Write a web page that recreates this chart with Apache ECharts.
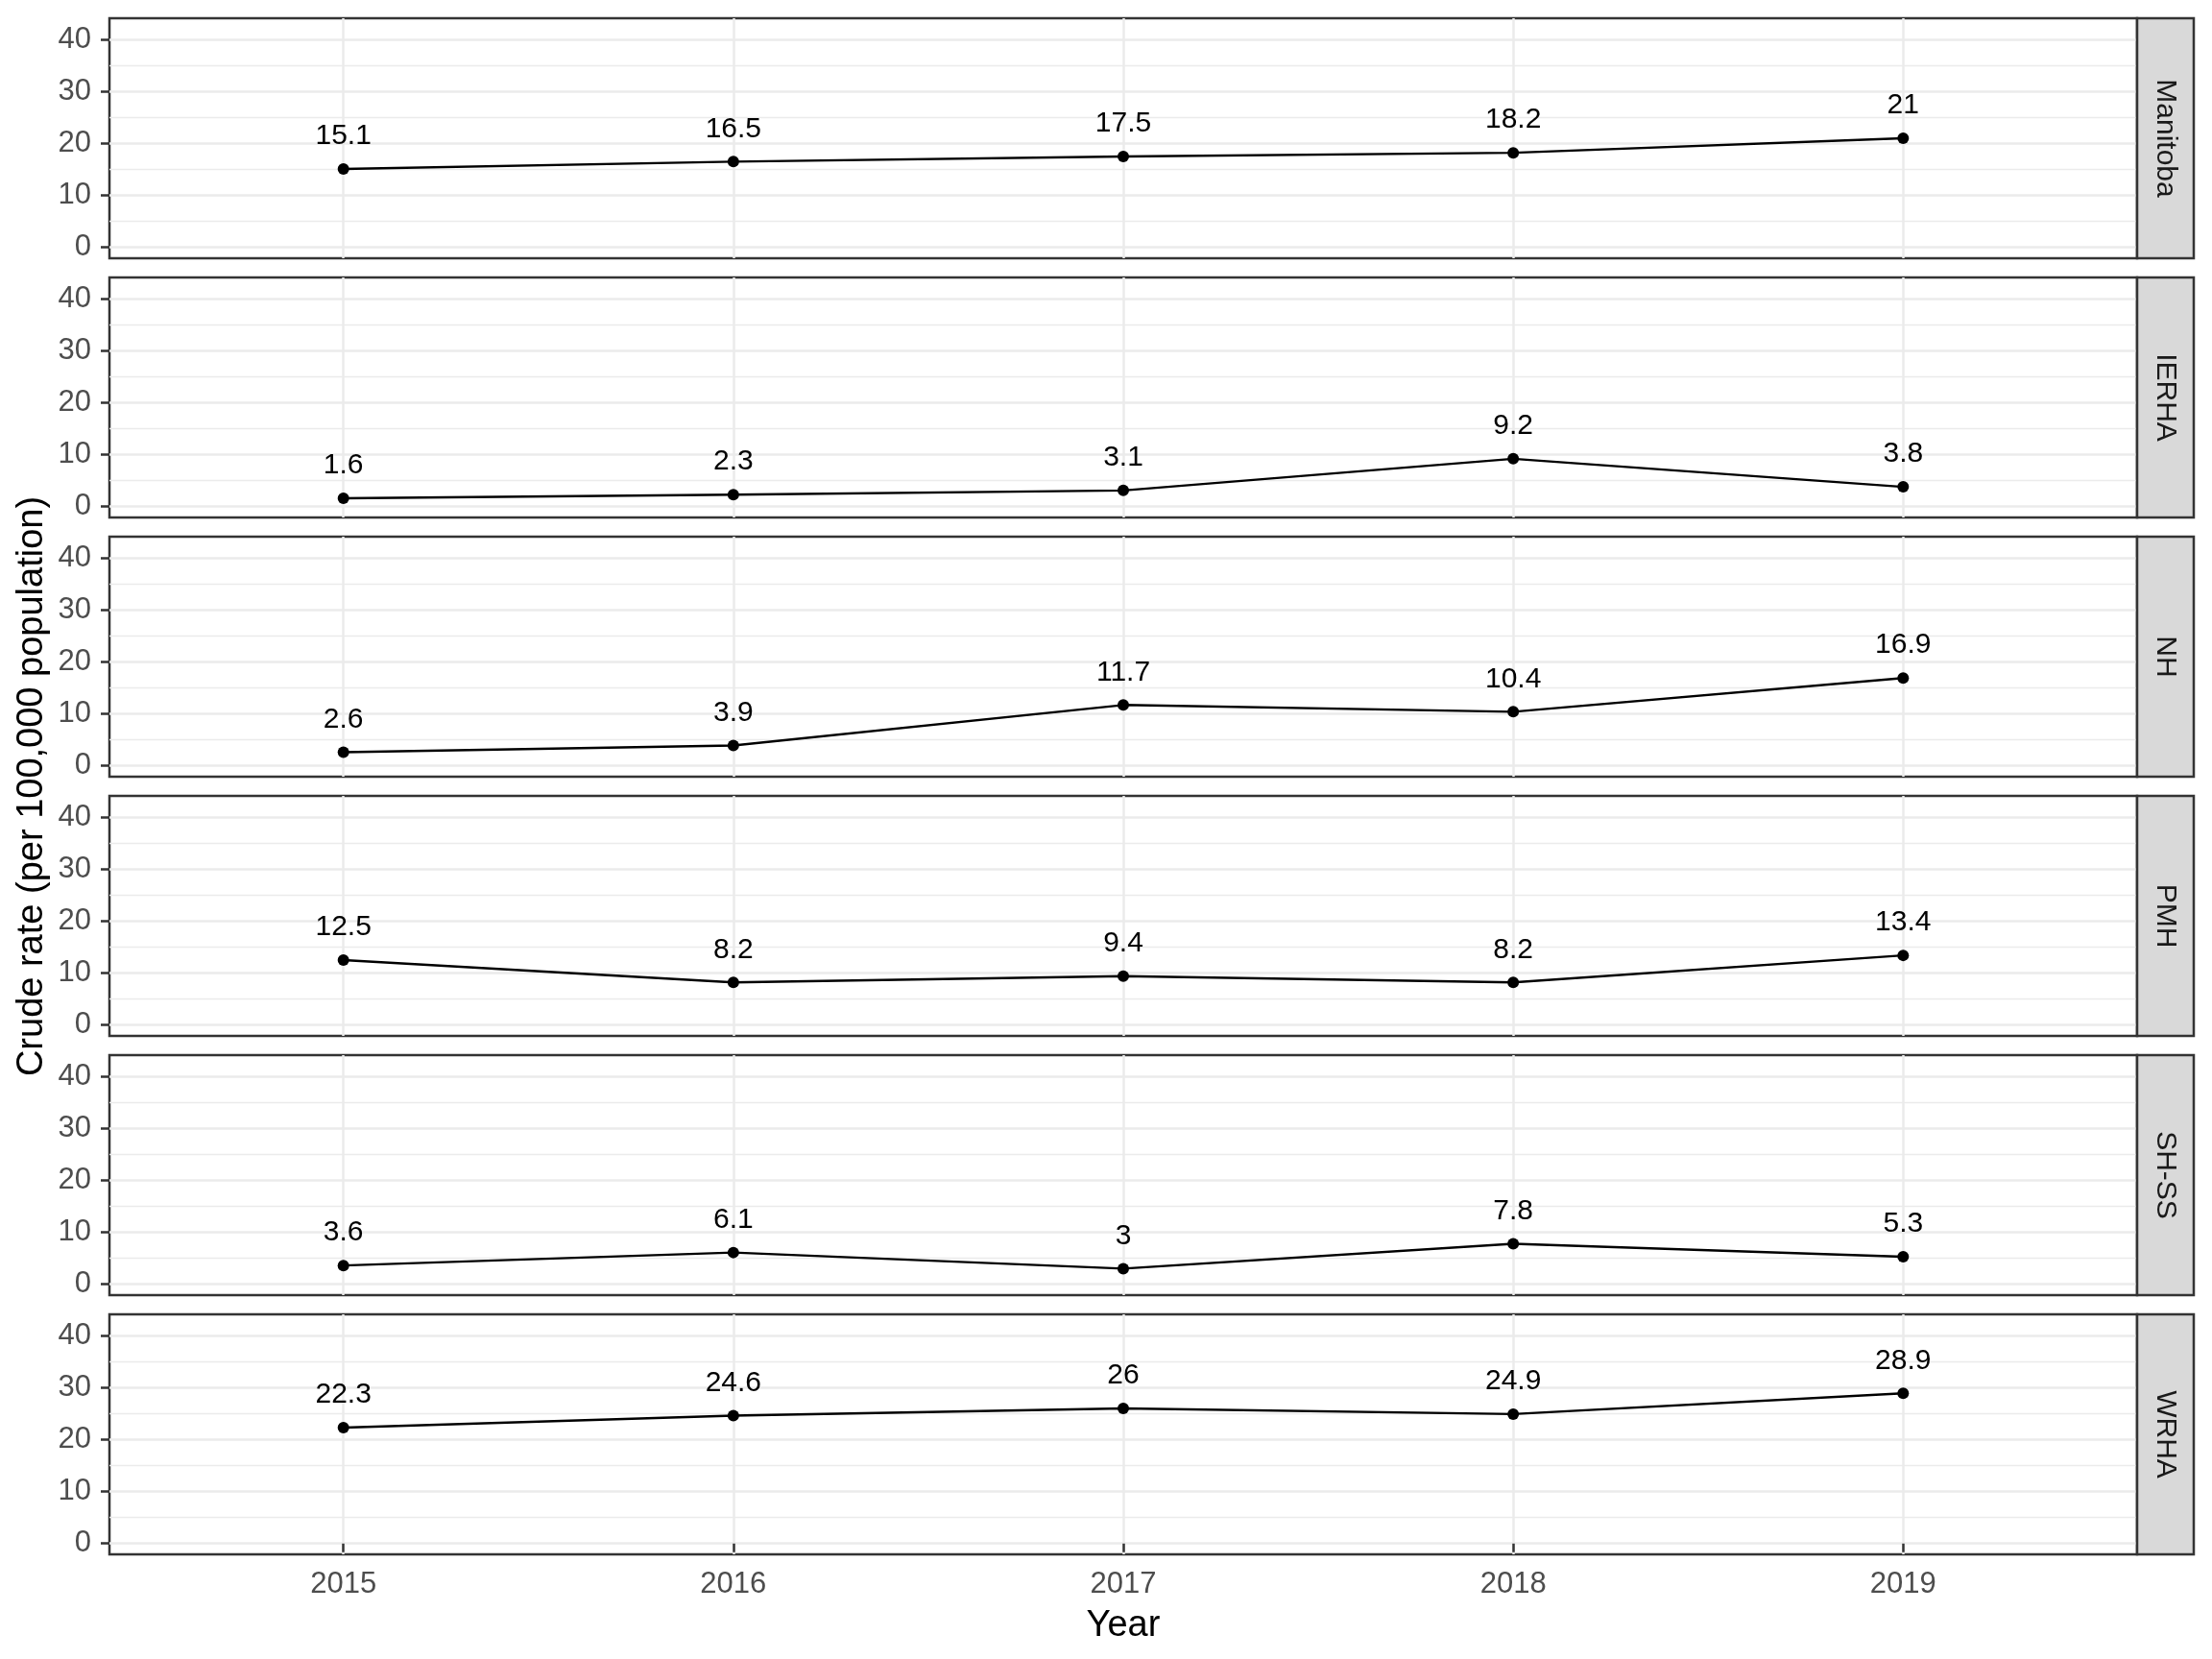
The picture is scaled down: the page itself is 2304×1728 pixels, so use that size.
<!DOCTYPE html>
<html>
<head>
<meta charset="utf-8">
<script src="https://cdn.jsdelivr.net/npm/echarts@6/dist/echarts.min.js"></script>
<style>
  html, body { margin: 0; padding: 0; background: #fff; }
  #chart { width: 2304px; height: 1728px; }
</style>
</head>
<body>
<div id="chart"></div>
<script>
// data
const years = [2015, 2016, 2017, 2018, 2019];
const regions = ['Manitoba', 'IERHA', 'NH', 'PMH', 'SH-SS', 'WRHA'];
const manitoba = [15.1, 16.5, 17.5, 18.2, 21];
const ierha = [1.6, 2.3, 3.1, 9.2, 3.8];
const nh = [2.6, 3.9, 11.7, 10.4, 16.9];
const pmh = [12.5, 8.2, 9.4, 8.2, 13.4];
const shss = [3.6, 6.1, 3, 7.8, 5.3];
const wrha = [22.3, 24.6, 26, 24.9, 28.9];
const yMajor = [0, 10, 20, 30, 40];
const yMinor = [5, 15, 25, 35];

const values = [manitoba, ierha, nh, pmh, shss, wrha];

// layout
const left = 114, right = 2226;
const top0 = 19, panelH = 250, step = 270;
const stripW = 59;
const font = '"Liberation Sans", Arial, sans-serif';
const dark = '#333333';
const grid92 = '#ebebeb';

const chart = echarts.init(document.getElementById('chart'));

const grids = [], xAxes = [], yAxes = [], series = [], graphics = [];

regions.forEach((name, i) => {
  const top = top0 + i * step;
  const last = i === regions.length - 1;
  grids.push({
    left: left, width: right - left, top: top, height: panelH,
    show: true, borderColor: dark, borderWidth: 2.5, backgroundColor: '#fff'
  });
  xAxes.push({
    type: 'value', gridIndex: i, min: 2014.4, max: 2019.6, position: 'bottom',
    axisLine: { show: false },
    axisTick: { show: last, customValues: years, length: 9, lineStyle: { color: dark, width: 2.5 } },
    axisLabel: {
      show: last, customValues: years, color: '#4d4d4d', fontSize: 31, fontFamily: font, margin: 16,
      formatter: v => String(v)
    },
    splitLine: { show: true, lineStyle: { color: grid92, width: 2.5 } },
    name: last ? 'Year' : '', nameLocation: 'middle', nameGap: 56,
    nameTextStyle: { color: '#000', fontSize: 38, fontFamily: font }
  });
  // minor grid lines
  yAxes.push({
    type: 'value', gridIndex: i, min: -2.1, max: 44.1, position: 'left',
    axisLine: { show: false },
    axisTick: { show: false, customValues: yMinor },
    axisLabel: { show: false, customValues: yMinor },
    splitLine: { show: true, lineStyle: { color: grid92, width: 1.3 } }
  });
  // major axis
  yAxes.push({
    type: 'value', gridIndex: i, min: -2.1, max: 44.1, position: 'left', offset: 0,
    axisLine: { show: false },
    axisTick: { show: true, customValues: yMajor, length: 9, lineStyle: { color: dark, width: 2.5 } },
    axisLabel: { customValues: yMajor, color: '#4d4d4d', fontSize: 31, fontFamily: font, margin: 19 },
    splitLine: { show: true, lineStyle: { color: grid92, width: 2.5 } }
  });
  series.push({
    type: 'line', xAxisIndex: i, yAxisIndex: i * 2 + 1,
    data: years.map((y, j) => [y, values[i][j]]),
    symbol: 'circle', symbolSize: 12,
    itemStyle: { color: '#000' },
    lineStyle: { color: '#000', width: 2.4 },
    label: {
      show: true, position: 'top', distance: 13,
      color: '#000', fontSize: 30, fontFamily: font,
      formatter: p => String(p.value[1])
    },
    silent: true, animation: false, z: 5
  });
  // facet strip
  graphics.push({
    type: 'rect', shape: { x: right, y: top, width: stripW, height: panelH },
    style: { fill: '#d9d9d9', stroke: dark, lineWidth: 2.5 }, z: 10
  });
  graphics.push({
    type: 'text', x: right + stripW / 2, y: top + panelH / 2, rotation: -Math.PI / 2,
    style: {
      text: name, fill: '#1a1a1a', fontSize: 30, fontFamily: font,
      align: 'center', verticalAlign: 'middle'
    }, z: 11
  });
});

graphics.push({
  type: 'text', x: 34, y: top0 + (step * (regions.length - 1) + panelH) / 2, rotation: Math.PI / 2,
  style: {
    text: 'Crude rate (per 100,000 population)', fill: '#000', fontSize: 38, fontFamily: font,
    align: 'center', verticalAlign: 'middle'
  }
});

chart.setOption({
  animation: false,
  backgroundColor: '#fff',
  grid: grids,
  xAxis: xAxes,
  yAxis: yAxes,
  series: series,
  graphic: graphics
});
</script>
</body>
</html>
